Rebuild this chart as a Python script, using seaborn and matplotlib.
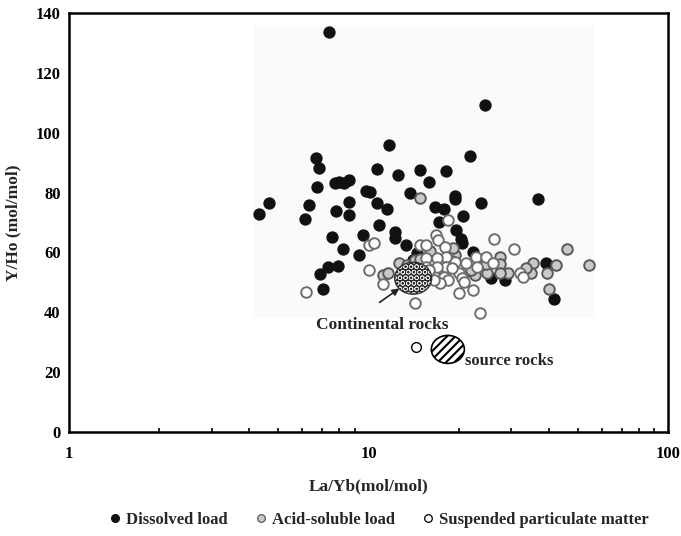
import numpy as np
import pandas as pd
import matplotlib
matplotlib.use("Agg")
import matplotlib.pyplot as plt
import matplotlib.transforms as mtransforms
from matplotlib.patches import Ellipse, Rectangle
from matplotlib.lines import Line2D
import seaborn as sns

# La/Yb and Y/Ho ratios (mol/mol)
dissolved_layb = [4.31, 4.66, 6.14, 6.34, 6.68, 6.84, 6.74, 7.40, 7.7, 8.0, 8.3, 8.6,
                  8.6, 7.8, 8.6, 10.7, 11.7, 12.5, 9.8, 10.1, 10.7, 11.5, 10.85, 12.3,
                  12.3, 7.55, 8.2, 9.6, 9.3, 6.88, 7.35, 7.9, 7.03, 24.4, 21.9, 14.8,
                  15.9, 18.1, 13.8, 19.5, 19.4, 23.7, 36.7, 16.7, 17.8, 20.7, 17.2, 19.6,
                  13.3, 20.4, 20.5, 22.3, 39.0, 41.6, 28.5, 25.6, 14.1, 14.5]
dissolved_yho = [72.8, 76.6, 71.3, 75.7, 91.5, 88.2, 82.0, 133.7, 83.1, 83.6, 83.1, 84.2,
                 76.8, 73.7, 72.4, 87.8, 95.9, 85.9, 80.6, 80.1, 76.6, 74.5, 69.1, 66.9,
                 64.9, 65.0, 61.1, 65.8, 59.1, 52.9, 55.3, 55.4, 47.9, 109.3, 92.2, 87.4,
                 83.5, 87.1, 79.9, 78.7, 77.8, 76.5, 77.8, 75.3, 74.4, 72.1, 70.2, 67.4,
                 62.6, 64.4, 63.0, 60.2, 56.6, 44.6, 50.8, 51.4, 57.5, 59.7]

acid_layb = [14.8, 11.2, 11.6, 12.6, 13.4, 14.3, 14.8, 19.4, 22.7, 24.8, 21.0, 27.5,
             27.5, 24.7, 29.3, 35.4, 34.9, 33.6, 39.3, 40.1, 42.2, 45.9, 54.6, 19.2,
             17.8, 27.5, 22.0, 16.0, 19.0]
acid_yho = [78.2, 52.5, 53.0, 56.4, 55.8, 57.5, 57.7, 59.1, 52.5, 53.0, 53.6, 58.6,
            56.1, 56.1, 53.0, 56.6, 53.0, 54.7, 53.0, 47.8, 55.7, 61.3, 55.7, 61.4,
            53.0, 53.0, 54.1, 60.5, 57.0]

spm_layb = [10.0, 10.4, 10.05, 6.2, 11.2, 18.4, 16.8, 17.0, 26.3, 30.5, 14.8, 15.5,
            18.0, 22.9, 24.7, 21.2, 19.4, 18.1, 18.1, 16.9, 16.9, 15.6, 20.0, 20.5,
            17.8, 18.4, 17.3, 20.0, 22.3, 23.0, 26.1, 32.1, 32.9, 14.3, 23.5, 15.6,
            15.9, 19.0, 16.5, 20.9]
spm_yho = [62.5, 63.0, 54.3, 46.8, 49.4, 70.8, 65.8, 64.3, 64.4, 61.3, 62.5, 62.4,
           61.7, 58.6, 58.6, 56.4, 56.9, 58.4, 55.2, 58.0, 55.2, 58.0, 53.0, 51.4,
           51.9, 50.8, 49.7, 46.3, 47.4, 55.2, 56.4, 53.0, 51.7, 43.0, 39.7, 55.2,
           54.1, 54.8, 50.8, 50.1]

# reference fields
continental_layb, continental_yho = 14.1, 51.4
source_layb, source_yho = 18.4, 27.6
source_point_layb, source_point_yho = 14.4, 28.3

series_names = ["Dissolved load", "Acid-soluble load", "Suspended particulate matter"]

df = pd.concat([
    pd.DataFrame({"La/Yb": dissolved_layb, "Y/Ho": dissolved_yho, "type": series_names[0]}),
    pd.DataFrame({"La/Yb": acid_layb, "Y/Ho": acid_yho, "type": series_names[1]}),
    pd.DataFrame({"La/Yb": spm_layb, "Y/Ho": spm_yho, "type": series_names[2]}),
], ignore_index=True)

sns.set_theme(style="white")
plt.rcParams["font.family"] = ["Liberation Serif", "DejaVu Serif"]
plt.rcParams["font.weight"] = "bold"

fig = plt.figure(figsize=(6.81, 5.36), dpi=100)
ax = fig.add_axes([0.1013, 0.194, 0.8797, 0.7817])

styles = {
    series_names[0]: dict(color="#111111", edgecolor="#111111", linewidth=1.0, s=62),
    series_names[1]: dict(color="#c9c9c9", edgecolor="#585858", linewidth=1.4, s=58),
    series_names[2]: dict(color="white", edgecolor="#6e6e6e", linewidth=1.4, s=58),
}
for i, name in enumerate(series_names):
    sub = df[df["type"] == name]
    sns.scatterplot(data=sub, x="La/Yb", y="Y/Ho", ax=ax, zorder=3 + i,
                    legend=False, **styles[name])

ax.set_xscale("log")
ax.set_xlim(1, 100)
ax.set_ylim(0, 140)
ax.set_yticks(np.arange(0, 141, 20))
ax.set_xticks([1, 10, 100])
ax.set_xticklabels(["1", "10", "100"])
ax.tick_params(axis="both", which="both", direction="in", labelsize=12,
               colors="black", width=1.2)
ax.tick_params(axis="both", which="major", length=5)
ax.tick_params(axis="x", which="minor", length=3, bottom=True)
ax.tick_params(axis="x", which="major", pad=10)
ax.tick_params(axis="y", which="major", pad=6)
for lab in ax.get_xticklabels() + ax.get_yticklabels():
    lab.set_fontweight("bold")
for sp in ax.spines.values():
    sp.set_color("black")
    sp.set_linewidth(1.8)
ax.set_xlabel("La/Yb(mol/mol)", fontsize=12.5, fontweight="bold", labelpad=12)
ax.set_ylabel("Y/Ho (mol/mol)", fontsize=12.5, fontweight="bold", labelpad=10)

# faint panel behind the data cloud
ax.add_patch(Rectangle((0.307, 0.272), 0.571, 0.699, transform=ax.transAxes,
                       facecolor="#fafafa", edgecolor="none", zorder=0))

# reference fields drawn in screen units around their data centres
def field(cx, cy, w_in, h_in, **kw):
    tr = fig.dpi_scale_trans + mtransforms.ScaledTranslation(cx, cy, ax.transData)
    e = Ellipse((0, 0), w_in, h_in, transform=tr, **kw)
    ax.add_patch(e)
    return e

with plt.rc_context({"hatch.linewidth": 0.5}):
    field(continental_layb, continental_yho, 0.37, 0.32, facecolor="#262626",
          edgecolor="#e6e6e6", hatch="OOO", linewidth=0, zorder=7)
field(continental_layb, continental_yho, 0.37, 0.32, facecolor="none",
      edgecolor="#333333", linewidth=1.0, zorder=8)
with plt.rc_context({"hatch.linewidth": 1.5}):
    field(source_layb, source_yho, 0.33, 0.28, facecolor="white",
          edgecolor="black", hatch="////", linewidth=1.2, zorder=7)

ax.plot([source_point_layb], [source_point_yho], marker="o", markersize=7,
        markerfacecolor="white", markeredgecolor="black", markeredgewidth=1.0,
        linestyle="none", zorder=7)

ax.annotate("", xy=(12.9, 48.5), xytext=(10.7, 42.8),
            arrowprops=dict(arrowstyle="-|>", color="#222222", lw=1.2,
                            mutation_scale=10), zorder=9)
ax.text(6.7, 35.7, "Continental rocks", fontsize=12.5, fontweight="bold",
        ha="left", va="center", zorder=9)
ax.text(21.0, 23.8, "source rocks", fontsize=12, fontweight="bold",
        ha="left", va="center", zorder=9)

handles = [
    Line2D([], [], marker="o", linestyle="none", markersize=5.5,
           markerfacecolor="#111111", markeredgecolor="#111111"),
    Line2D([], [], marker="o", linestyle="none", markersize=5.5,
           markerfacecolor="#c9c9c9", markeredgecolor="#585858", markeredgewidth=0.9),
    Line2D([], [], marker="o", linestyle="none", markersize=5.5,
           markerfacecolor="white", markeredgecolor="black", markeredgewidth=0.9),
]
fig.legend(handles, series_names, loc="center", bbox_to_anchor=(0.553, 0.03),
           ncol=3, frameon=False, handletextpad=0.05, columnspacing=1.4,
           handlelength=1.2,
           prop={"family": ["Liberation Serif", "DejaVu Serif"], "weight": "bold",
                 "size": 12})

fig.savefig("out.png", dpi=100, facecolor="white")
